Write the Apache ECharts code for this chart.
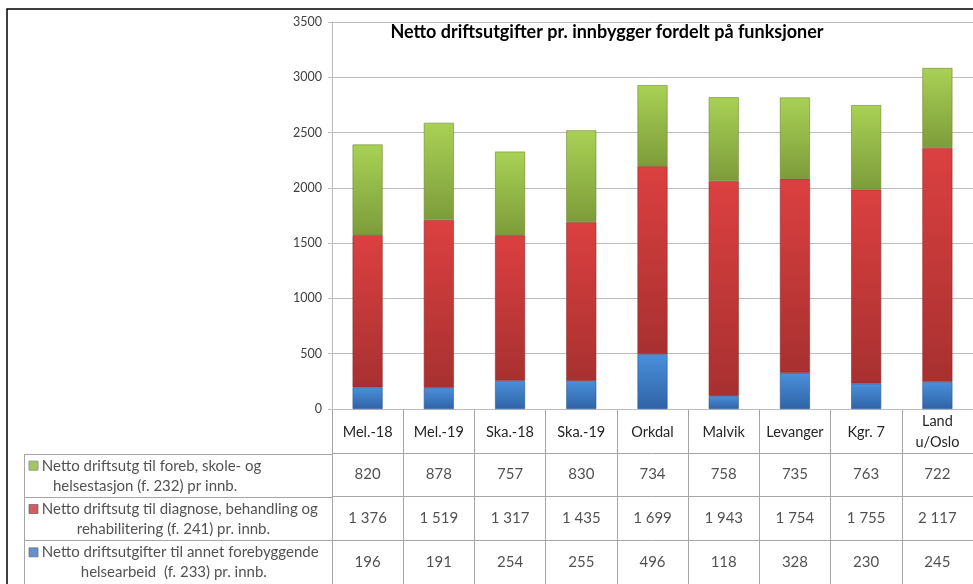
<!DOCTYPE html>
<html>
<head>
<meta charset="utf-8">
<script src="https://cdn.jsdelivr.net/npm/echarts@6/dist/echarts.min.js"></script>
<style>
  html, body { margin: 0; padding: 0; background: #fff; }
  #chart { width: 973px; height: 584px; }
</style>
</head>
<body>
<div id="chart"></div>
<script>
const categories = ['Mel.-18', 'Mel.-19', 'Ska.-18', 'Ska.-19', 'Orkdal', 'Malvik', 'Levanger', 'Kgr. 7', 'Land\nu/Oslo'];
const forebValues = [820, 878, 757, 830, 734, 758, 735, 763, 722];
const diagnoseValues = [1376, 1519, 1317, 1435, 1699, 1943, 1754, 1755, 2117];
const annetValues = [196, 191, 254, 255, 496, 118, 328, 230, 245];
const seriesNames = [
    ['Netto driftsutg til foreb, skole- og', 'helsestasjon (f. 232) pr innb.'],
    ['Netto driftsutg til diagnose, behandling og', 'rehabilitering (f. 241) pr. innb.'],
    ['Netto driftsutgifter til annet forebyggende', 'helsearbeid  (f. 233) pr. innb.']
];
const titleText = 'Netto driftsutgifter pr. innbygger fordelt på funksjoner';

const font = 'Lato, "Open Sans", sans-serif';
const gridColor = '#bdbdbd';
const tableColor = '#a6a6a6';

function grad(top, bottom) {
    return new echarts.graphic.LinearGradient(0, 0, 0, 1, [
        { offset: 0, color: top },
        { offset: 1, color: bottom }
    ]);
}

// norsk tusenskille
function fmt(v) {
    if (v < 1000) return String(v);
    return Math.floor(v / 1000) + ' ' + String(v % 1000).padStart(3, '0');
}

const rows = [
    { name: seriesNames[0], values: forebValues, marker: '#8fb63e' },
    { name: seriesNames[1], values: diagnoseValues, marker: '#c0393b' },
    { name: seriesNames[2], values: annetValues, marker: '#3d76bd' }
];

const tableData = [];
rows.forEach((r, ri) => {
    r.values.forEach((v, ci) => tableData.push([ci, ri + 1.5, v]));
});

const legendRich = {
    t: { fontSize: 15, fontFamily: font, color: '#262626', lineHeight: 20 },
    c: { fontSize: 15, fontFamily: font, color: '#262626', lineHeight: 20, align: 'center' }
};
rows.forEach((r, ri) => {
    legendRich['m' + ri] = {
        width: 9,
        height: 9,
        backgroundColor: r.marker,
        borderColor: '#555',
        borderWidth: 0.4
    };
});

const chart = echarts.init(document.getElementById('chart'));

const barSeries = (name, data, top, bottom, border) => ({
    name: name,
    type: 'bar',
    stack: 'total',
    barWidth: 30,
    xAxisIndex: 0,
    yAxisIndex: 0,
    data: data,
    itemStyle: {
        color: grad(top, bottom),
        borderColor: border,
        borderWidth: 0.6
    }
});

const option = {
    animation: false,
    textStyle: { fontFamily: font },
    title: {
        text: titleText,
        left: 602,
        top: 18,
        textAlign: 'center',
        textStyle: { fontFamily: font, fontSize: 18, fontWeight: 'bold', color: '#000' }
    },
    grid: [
        { left: 332, top: 22, width: 648, height: 387 },
        { left: 332, top: 409, width: 648, height: 181 },
        { left: 24, top: 454, width: 308, height: 136 }
    ],
    xAxis: [
        {
            gridIndex: 0,
            type: 'category',
            data: categories,
            axisLine: { lineStyle: { color: gridColor } },
            axisTick: { show: false },
            axisLabel: {
                color: '#262626',
                fontSize: 14.5,
                fontFamily: font,
                verticalAlign: 'middle',
                lineHeight: 21,
                margin: 23,
                interval: 0
            }
        },
        {
            gridIndex: 1,
            type: 'category',
            data: categories,
            axisLine: { show: false },
            axisTick: { show: false },
            axisLabel: { show: false },
            splitLine: { show: true, interval: 0, lineStyle: { color: tableColor } }
        },
        {
            gridIndex: 2,
            type: 'value',
            min: 0,
            max: 1,
            interval: 1,
            axisLine: { show: false },
            axisTick: { show: false },
            axisLabel: { show: false },
            splitLine: { show: true, lineStyle: { color: tableColor } }
        }
    ],
    yAxis: [
        {
            gridIndex: 0,
            type: 'value',
            min: 0,
            max: 3500,
            interval: 500,
            axisLine: { show: true, lineStyle: { color: gridColor } },
            axisTick: { show: true, length: 4, lineStyle: { color: gridColor } },
            axisLabel: { color: '#404040', fontSize: 12.5, fontFamily: font, margin: 10, formatter: v => String(v) },
            splitLine: { lineStyle: { color: gridColor } }
        },
        {
            gridIndex: 1,
            type: 'value',
            min: 0,
            max: 4,
            interval: 1,
            inverse: true,
            axisLine: { show: false },
            axisTick: { show: false },
            axisLabel: { show: false },
            splitLine: { show: true, lineStyle: { color: tableColor } }
        },
        {
            gridIndex: 2,
            type: 'value',
            min: 1,
            max: 4,
            interval: 1,
            inverse: true,
            axisLine: { show: false },
            axisTick: { show: false },
            axisLabel: { show: false },
            splitLine: { show: true, lineStyle: { color: tableColor } }
        }
    ],
    series: [
        barSeries(seriesNames[2].join(' '), annetValues, '#4b8fdb', '#2f64a6', '#2a5a96'),
        barSeries(seriesNames[1].join(' '), diagnoseValues, '#dc4040', '#a83030', '#8f2a2a'),
        barSeries(seriesNames[0].join(' '), forebValues, '#a9d155', '#7d9c3a', '#6b8731'),
        {
            type: 'scatter',
            xAxisIndex: 1,
            yAxisIndex: 1,
            symbolSize: 0,
            data: tableData,
            label: {
                show: true,
                position: 'inside',
                color: '#262626',
                fontSize: 15,
                fontFamily: font,
                formatter: p => fmt(p.value[2])
            }
        },
        {
            type: 'scatter',
            xAxisIndex: 2,
            yAxisIndex: 2,
            symbolSize: 0,
            data: rows.map((r, ri) => [0, ri + 1.5, ri]),
            label: {
                show: true,
                position: 'inside',
                align: 'left',
                offset: [5, 0],
                formatter: p => {
                    const ri = p.value[2];
                    return '{m' + ri + '|}{t| ' + rows[ri].name[0] + '}\n{c|' + rows[ri].name[1] + '}';
                },
                rich: legendRich
            }
        }
    ],
    graphic: [
        {
            type: 'polyline',
            shape: { points: [[7, 584], [7, 9], [973, 9]] },
            style: { stroke: '#000', lineWidth: 1.5, fill: null },
            silent: true
        }
    ]
};

chart.setOption(option);
</script>
</body>
</html>
